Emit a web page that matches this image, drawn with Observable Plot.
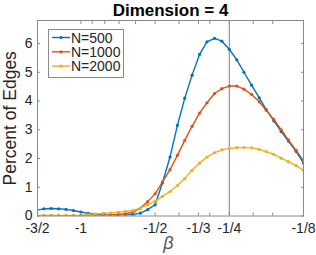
<!DOCTYPE html>
<html><head><meta charset="utf-8">
<script src="https://cdn.jsdelivr.net/npm/d3@7"></script>
<script src="https://cdn.jsdelivr.net/npm/@observablehq/plot@0.6"></script>
<style>body{margin:0;background:#fff} svg{display:block}</style>
</head><body><div id="chart"></div>
<script>
const beta = [-1.516,-1.414,-1.320,-1.231,-1.149,-1.072,-1,-0.933,-0.871,-0.812,-0.758,-0.707,-0.660,-0.616,-0.574,-0.536,-0.5,-0.467,-0.435,-0.406,-0.379,-0.354,-0.330,-0.308,-0.287,-0.268,-0.25,-0.233,-0.218,-0.203,-0.189,-0.177,-0.165,-0.154,-0.144,-0.134,-0.125];
const n500 = [0.20,0.25,0.26,0.25,0.23,0.19,0.14,0.09,0.06,0.04,0.03,0.03,0.03,0.05,0.10,0.22,0.39,1.15,2.05,3.15,4.10,4.90,5.62,6.06,6.18,6.08,5.80,5.43,5.00,4.55,4.11,3.70,3.31,2.94,2.61,2.25,1.84];
const n1000 = [0.01,0.01,0.01,0.01,0.01,0.01,0.01,0.01,0.02,0.03,0.04,0.05,0.08,0.13,0.27,0.50,0.77,1.18,1.61,2.11,2.63,3.12,3.58,3.94,4.26,4.43,4.52,4.52,4.41,4.23,3.97,3.68,3.36,3.00,2.65,2.28,1.93];
const n2000 = [0.02,0.02,0.02,0.02,0.02,0.02,0.03,0.05,0.07,0.09,0.11,0.13,0.16,0.19,0.27,0.39,0.52,0.68,0.85,1.06,1.30,1.59,1.84,2.05,2.20,2.30,2.35,2.38,2.38,2.37,2.32,2.24,2.14,2.01,1.89,1.75,1.59];
const seriesNames = ["N=500","N=1000","N=2000"];
const seriesColors = ["#0072BD","#D95319","#EDB120"];
const xTicks = [-1.5,-1,-0.9,-0.8,-0.7,-0.6,-0.5,-0.4,-1/3,-0.3,-0.25,-0.2,-1/6,-0.125];
const xLabelTicks = [-1.5,-1,-0.5,-1/3,-0.25,-0.125];
const xLabelTexts = ["-3/2","-1","-1/2","-1/3","-1/4","-1/8"];
const yTicks = [0,1,2,3,4,5,6];
const markerBeta = [-0.25];
const titleText = "Dimension = 4";
const xTitle = "β";
const yTitle = "Percent of Edges";

const seriesValues = [n500, n1000, n2000];
const rows = seriesNames.flatMap((s, k) => beta.map((b, i) => ({b, v: seriesValues[k][i], s})));
const xLabelRows = xLabelTicks.map((t, i) => ({t, label: xLabelTexts[i]}));

const fontFam = "'Liberation Sans', Arial, Helvetica, sans-serif";
const axisGray = "#8a8a8a";
const textGray = "#262626";

const chart = Plot.plot({
  width: 316, height: 255,
  marginLeft: 37, marginRight: 13, marginTop: 20, marginBottom: 39.5,
  style: {fontFamily: fontFam, fontSize: "14px", color: textGray, background: "#fff"},
  x: {type: "log", domain: [1.5, 0.125], label: null},
  y: {domain: [0, 6.8], label: null},
  color: {domain: seriesNames, range: seriesColors},
  marks: [
    Plot.ruleX(markerBeta.map(b => -b), {stroke: "#808080", strokeWidth: 1}),
    Plot.line(rows, {x: d => -d.b, y: "v", z: "s", stroke: "s", strokeWidth: 1.4, clip: true}),
    Plot.dot(rows, {x: d => -d.b, y: "v", fill: "s", r: 1.6, clip: true}),
    Plot.frame({stroke: axisGray}),
    Plot.axisX(xTicks.map(t => -t), {anchor: "bottom", tickSize: -3, tickFormat: () => "", stroke: axisGray, label: null}),
    Plot.axisX(xTicks.map(t => -t), {anchor: "top", tickSize: -3, tickFormat: () => "", stroke: axisGray, label: null}),
    Plot.text(xLabelRows, {x: d => -d.t, text: "label", frameAnchor: "bottom", dy: 7, lineAnchor: "top",
      textAnchor: "middle", fontSize: 14, fill: textGray}),
    Plot.axisY(yTicks, {anchor: "left", tickSize: -3, tickFormat: () => "", stroke: axisGray, label: null}),
    Plot.axisY(yTicks, {anchor: "right", tickSize: -3, tickFormat: () => "", stroke: axisGray, label: null}),
    Plot.axisY(yTicks, {anchor: "left", tickSize: 0, tickPadding: 5, fontSize: 14, fill: textGray, tickFormat: d => String(d), label: null}),
    Plot.text([titleText], {frameAnchor: "top", dy: -5, lineAnchor: "bottom", fontWeight: "bold", fontSize: 17, fill: "#000"}),
    Plot.text([xTitle], {frameAnchor: "bottom", dy: 33, dx: -2, lineAnchor: "bottom", fontStyle: "italic", fontSize: 18, fill: "#555"}),
    Plot.text([yTitle], {frameAnchor: "left", dx: -22, rotate: -90, lineAnchor: "bottom", textAnchor: "middle", fontSize: 17.5, fill: textGray})
  ]
});

// legend box (MATLAB-style, inside the axes)
const svg = d3.select(chart);
const lg = svg.append("g").attr("font-family", fontFam).attr("font-size", 14).attr("text-anchor", "start");
lg.append("rect").attr("x", 48.5).attr("y", 29.5).attr("width", 75).attr("height", 48)
  .attr("fill", "#fff").attr("stroke", axisGray);
seriesNames.forEach((name, k) => {
  const yy = 37.5 + k * 14.3;
  lg.append("line").attr("x1", 52).attr("x2", 70).attr("y1", yy).attr("y2", yy)
    .attr("stroke", seriesColors[k]).attr("stroke-width", 1.4);
  lg.append("circle").attr("cx", 61).attr("cy", yy).attr("r", 1.6).attr("fill", seriesColors[k]);
  lg.append("text").attr("x", 71).attr("y", yy).attr("dy", "0.36em").attr("text-anchor", "start")
    .attr("fill", textGray).text(name);
});

document.getElementById("chart").appendChild(chart);
</script>
</body></html>
